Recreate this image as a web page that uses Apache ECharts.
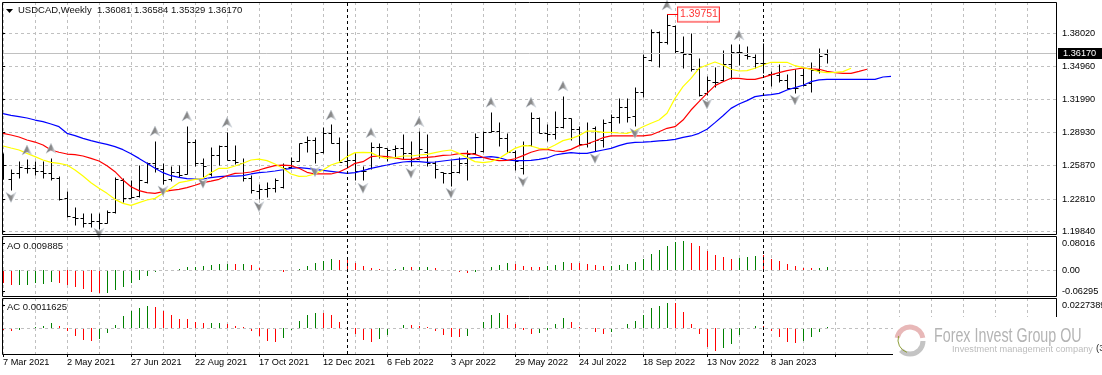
<!DOCTYPE html>
<html lang="en" style="height: 100%">
<head>
<meta charset="utf-8">
<title>USDCAD Weekly</title>
</head>
<body style="height: 100%; margin: 0; background: #fff">
<div id="container" style="width: 1102px; height: 375px"></div>

<script type="text/javascript" src="https://cdn.jsdelivr.net/npm/echarts@6/dist/echarts.min.js"></script>

<script type="text/javascript">
var dom = document.getElementById('container');
var myChart = echarts.init(dom);

// Weekly bars, one per week from 7 Mar 2021
var openPrices = [
  1.2462,1.2462,1.2517,1.2563,1.2563,1.2535,1.2517,1.2471,1.2287,1.2119,
  1.2104,1.2064,1.2076,1.2064,1.2162,1.2456,1.2287,1.2309,1.2440,1.2609,
  1.2554,1.2462,1.2532,1.2511,1.2808,1.2609,1.2511,1.2688,1.2771,1.2639,
  1.2609,1.2471,1.2358,1.2370,1.2379,1.2394,1.2578,1.2633,1.2801,1.2823,
  1.2716,1.2890,1.2798,1.2633,1.2639,1.2538,1.2563,1.2762,1.2746,1.2740,
  1.2746,1.2707,1.2648,1.2716,1.2609,1.2526,1.2517,1.2532,1.2615,1.2700,
  1.2725,1.2899,1.2908,1.2844,1.2716,1.2563,1.2777,1.3028,1.2884,1.2875,
  1.2939,1.3028,1.2921,1.2786,1.2930,1.2823,1.2991,1.3031,1.3123,1.3043,
  1.3263,1.3557,1.3811,1.3719,1.3872,1.3634,1.3612,1.3475,1.3251,1.3358,
  1.3374,1.3520,1.3634,1.3603,1.3588,1.3527,1.3429,1.3420,1.3374,1.3297,
  1.3420,1.3343,1.3465,1.36081
];
var highPrices = [
  1.2700,1.2554,1.2630,1.2645,1.2633,1.2630,1.2654,1.2495,1.2355,1.2205,
  1.2150,1.2150,1.2150,1.2180,1.2480,1.2471,1.2456,1.2593,1.2624,1.2814,
  1.2609,1.2587,1.2593,1.2951,1.2829,1.2654,1.2762,1.2780,1.2896,1.2777,
  1.2654,1.2502,1.2416,1.2440,1.2477,1.2609,1.2664,1.2798,1.2860,1.2847,
  1.2939,1.2967,1.2847,1.2823,1.2700,1.2587,1.2801,1.2792,1.2752,1.2777,
  1.2875,1.2814,1.2905,1.2878,1.2627,1.2526,1.2639,1.2670,1.2731,1.2884,
  1.2908,1.3083,1.2985,1.2890,1.2731,1.2814,1.3080,1.3031,1.2970,1.3092,
  1.3227,1.3028,1.2951,1.2988,1.2951,1.3016,1.3061,1.3208,1.3208,1.3306,
  1.3612,1.3839,1.3820,1.39751,1.3878,1.3778,1.3802,1.3573,1.3410,1.3496,
  1.3649,1.3701,1.3701,1.3689,1.3612,1.3710,1.3456,1.3517,1.3429,1.3475,
  1.3481,1.3539,1.3664,1.36584
];
var lowPrices = [
  1.2462,1.2364,1.2471,1.2517,1.2502,1.2477,1.2456,1.2272,1.2119,1.2043,
  1.2021,1.2021,1.2006,1.2058,1.2150,1.2251,1.2287,1.2303,1.2425,1.2526,
  1.2419,1.2450,1.2486,1.2508,1.2587,1.2486,1.2492,1.2593,1.2639,1.2599,
  1.2450,1.2339,1.2281,1.2303,1.2349,1.2385,1.2563,1.2633,1.2716,1.2609,
  1.2707,1.2792,1.2624,1.2578,1.2456,1.2456,1.2557,1.2654,1.2630,1.2654,
  1.2645,1.2587,1.2670,1.2587,1.2471,1.2431,1.2404,1.2523,1.2456,1.2694,
  1.2710,1.2893,1.2771,1.2710,1.2547,1.2511,1.2771,1.2884,1.2817,1.2832,
  1.2936,1.2823,1.2777,1.2762,1.2722,1.2762,1.2890,1.2982,1.2991,1.2951,
  1.3221,1.3551,1.3496,1.3701,1.3625,1.3487,1.3459,1.3227,1.3236,1.3306,
  1.3364,1.3383,1.3511,1.3563,1.3481,1.3435,1.3319,1.3352,1.3291,1.3257,
  1.3322,1.3267,1.3435,1.35329
];
var closePrices = [
  1.2593,1.2517,1.2572,1.2563,1.2541,1.2517,1.2477,1.2278,1.2125,1.2104,
  1.2064,1.2076,1.2064,1.2165,1.2465,1.2287,1.2303,1.2456,1.2609,1.2563,
  1.2456,1.2532,1.2502,1.2808,1.2609,1.2587,1.2685,1.2771,1.2639,1.2624,
  1.2471,1.2364,1.2370,1.2379,1.2456,1.2563,1.2630,1.2792,1.2823,1.2700,
  1.2890,1.2798,1.2624,1.2639,1.2538,1.2538,1.2762,1.2762,1.2731,1.2752,
  1.2700,1.2645,1.2740,1.2609,1.2557,1.2517,1.2532,1.2609,1.2694,1.2853,
  1.2899,1.2905,1.2844,1.2716,1.2633,1.2777,1.3028,1.2890,1.2875,1.2939,
  1.3028,1.2921,1.2786,1.2798,1.2823,1.2982,1.3037,1.3123,1.3037,1.3263,
  1.3588,1.3817,1.3726,1.3878,1.3643,1.3612,1.3472,1.3236,1.3374,1.3358,
  1.3520,1.3634,1.3634,1.3594,1.3527,1.3527,1.3429,1.3374,1.3297,1.3297,
  1.3328,1.3465,1.3594,1.36170
];

// Alligator lines, they run past the last bar because of their shift
var jawLine = [
  1.3065,1.3049,1.3037,1.3025,1.3006,1.2991,1.2970,1.2945,1.2884,1.2863,
  1.2838,1.2817,1.2798,1.2783,1.2762,1.2734,1.2697,1.2654,1.2609,1.2563,
  1.2523,1.2495,1.2480,1.2468,1.2465,1.2465,1.2477,1.2486,1.2492,1.2492,
  1.2495,1.2511,1.2523,1.2529,1.2538,1.2550,1.2563,1.2569,1.2563,1.2554,
  1.2544,1.2535,1.2526,1.2517,1.2523,1.2541,1.2563,1.2578,1.2593,1.2609,
  1.2621,1.2627,1.2624,1.2618,1.2621,1.2630,1.2639,1.2648,1.2654,1.2661,
  1.2664,1.2670,1.2661,1.2639,1.2633,1.2633,1.2636,1.2645,1.2658,1.2685,
  1.2697,1.2707,1.2700,1.2700,1.2716,1.2731,1.2746,1.2771,1.2792,1.2801,
  1.2804,1.2808,1.2814,1.2820,1.2829,1.2847,1.2860,1.2884,1.2921,1.2982,
  1.3046,1.3113,1.3153,1.3184,1.3221,1.3233,1.3239,1.3251,1.3282,1.3303,
  1.3325,1.3358,1.3374,1.3380,1.3380,1.3380,1.3380,1.3380,1.3380,1.3380,
  1.3401,1.3407
];
var teethLine = [
  1.2884,1.2869,1.2850,1.2823,1.2804,1.2777,1.2731,1.2710,1.2694,1.2688,
  1.2676,1.2654,1.2630,1.2587,1.2532,1.2456,1.2394,1.2358,1.2339,1.2333,
  1.2349,1.2361,1.2370,1.2385,1.2407,1.2431,1.2446,1.2462,1.2495,1.2517,
  1.2520,1.2529,1.2547,1.2569,1.2587,1.2593,1.2587,1.2563,1.2526,1.2511,
  1.2511,1.2511,1.2529,1.2563,1.2609,1.2624,1.2670,1.2676,1.2670,1.2658,
  1.2645,1.2645,1.2658,1.2664,1.2670,1.2682,1.2685,1.2697,1.2700,1.2691,
  1.2664,1.2645,1.2633,1.2636,1.2651,1.2679,1.2710,1.2731,1.2737,1.2722,
  1.2716,1.2737,1.2771,1.2786,1.2814,1.2844,1.2860,1.2860,1.2860,1.2860,
  1.2860,1.2869,1.2899,1.2930,1.2945,1.3006,1.3098,1.3175,1.3251,1.3322,
  1.3358,1.3389,1.3389,1.3380,1.3380,1.3398,1.3420,1.3441,1.3459,1.3472,
  1.3484,1.3475,1.3472,1.3453,1.3441,1.3435,1.3435,1.3453,1.3472
];
var lipsLine = [
  1.2768,1.2749,1.2731,1.2700,1.2670,1.2639,1.2618,1.2609,1.2593,1.2547,
  1.2492,1.2431,1.2379,1.2333,1.2278,1.2241,1.2223,1.2248,1.2272,1.2287,
  1.2333,1.2379,1.2431,1.2446,1.2462,1.2471,1.2523,1.2563,1.2563,1.2584,
  1.2609,1.2639,1.2648,1.2633,1.2602,1.2563,1.2511,1.2489,1.2492,1.2511,
  1.2547,1.2593,1.2618,1.2670,1.2707,1.2710,1.2707,1.2670,1.2654,1.2661,
  1.2676,1.2676,1.2685,1.2691,1.2707,1.2722,1.2731,1.2700,1.2661,1.2624,
  1.2615,1.2624,1.2654,1.2700,1.2746,1.2771,1.2768,1.2746,1.2740,1.2777,
  1.2817,1.2835,1.2863,1.2905,1.2905,1.2893,1.2893,1.2887,1.2884,1.2908,
  1.2945,1.2976,1.3006,1.3068,1.3205,1.3312,1.3389,1.3481,1.3511,1.3539,
  1.3511,1.3472,1.3456,1.3459,1.3481,1.3511,1.3536,1.3536,1.3536,1.3505,
  1.3487,1.3472,1.3450,1.3441,1.3444,1.3450,1.3481
];

// Fractal arrows as [bar, price]
var fractalsUp = [
  [3,1.2731],[6,1.2746],[19,1.2905],[23,1.3043],[28,1.2985],[41,1.3052],[46,1.2890],
  [52,1.2991],[61,1.3169],[66,1.3169],[70,1.3319],[83,1.4062],[92,1.3787]
];
var fractalsDown = [
  [1,1.2296],[12,1.1966],[20,1.2355],[25,1.2425],[32,1.2211],[39,1.2532],[45,1.2379],
  [51,1.2517],[56,1.2333],[65,1.2440],[74,1.2654],[79,1.2884],[88,1.3153],[99,1.3190]
];

// Oscillators, r = falling bar, g = rising bar
var aoValues = [
  -.0386,-.0436,-.0436,-.0436,-.0386,-.0406,-.0337,-.0386,-.0436,-.0505,
  -.0564,-.0634,-.0663,-.0673,-.0584,-.0485,-.0366,-.0287,-.0168,-.0040,
  .0010,.0020,.0040,.0089,.0109,.0129,.0158,.0188,.0188,.0188,
  .0188,.0158,.0079,.0020,.0020,-.0040,.0010,.0040,.0129,.0228,
  .0287,.0337,.0307,.0297,.0228,.0129,.0079,.0040,.0010,.0040,
  .0099,.0099,.0109,.0099,.0069,.0020,.0010,-.0040,-.0079,-.0040,
  .0010,.0099,.0158,.0228,.0198,.0139,.0099,.0099,.0119,.0158,
  .0248,.0228,.0228,.0198,.0158,.0129,.0129,.0158,.0198,.0248,
  .0347,.0485,.0604,.0723,.0842,.0871,.0812,.0733,.0574,.0455,
  .0396,.0337,.0366,.0406,.0426,.0455,.0337,.0277,.0188,.0129,
  .0079,.0069,.0069,.009885
];
var aoTrend = 'rr' + 'ggggg' + 'rrrrrr' + 'gggggggggggggggg' + 'r' + 'g' + 'rrrrr' + 'gggggg' +
  'rrrrrr' + 'ggg' + 'r' + 'gg' + 'rrrrr' + 'ggggg' + 'rrrr' + 'ggg' + 'rrrrr' + 'gggggggggg' +
  'rrrrrr' + 'ggg' + 'rrrrrrr' + 'gg';
var acValues = [
  -.0016,-.0026,-.0013,-.0003,.0013,.0023,.0052,.0023,-.0026,-.0075,
  -.0114,-.0124,-.0107,-.0046,.0033,.0120,.0169,.0202,.0218,.0211,
  .0169,.0130,.0091,.0091,.0065,.0052,.0052,.0052,.0042,.0023,
  .0013,-.0026,-.0075,-.0124,-.0133,-.0094,-.0016,.0072,.0130,.0146,
  .0150,.0130,.0062,0,-.0055,-.0114,-.0133,-.0104,-.0065,.0003,
  .0033,.0033,.0023,.0013,-.0026,-.0065,-.0085,-.0085,-.0075,0,
  .0062,.0130,.0150,.0130,.0042,-.0013,-.0055,-.0046,-.0016,.0042,
  .0101,.0062,.0013,-.0007,-.0036,-.0055,-.0036,.0003,.0042,.0072,
  .0130,.0198,.0218,.0247,.0250,.0159,.0042,-.0055,-.0182,-.0221,
  -.0192,-.0153,-.0065,.0007,.0023,.0020,-.0026,-.0085,-.0133,-.0143,
  -.0124,-.0085,-.0036,.0011625
];
var acTrend = 'rr' + 'ggggg' + 'rrrrr' + 'ggggggg' + 'rrrrrrr' + 'gg' + 'rrrrrrr' + 'ggggg' +
  'rrrrrrr' + 'gggg' + 'rrrrrrr' + 'ggggg' + 'rrrr' + 'gggg' + 'rrrrr' + 'gggggggg' +
  'rrrrrr' + 'ggggg' + 'rrrrr' + 'gggg';

// Axis labels
var dateLabels = ['7 Mar 2021', '2 May 2021', '27 Jun 2021', '22 Aug 2021', '17 Oct 2021', '12 Dec 2021',
  '6 Feb 2022', '3 Apr 2022', '29 May 2022', '24 Jul 2022', '18 Sep 2022', '13 Nov 2022', '8 Jan 2023'];
var priceTicks = [1.38020, 1.34960, 1.31990, 1.28930, 1.25870, 1.22810, 1.19840];
var aoTicks = [0.08016, 0, -0.06295];
var acTicks = [0.0227389];
var yearBreaks = [43, 95];
var lastPrice = 1.36170;
var peakBar = 83;
var peakPrice = 1.39751;

var FONT = 'Liberation Sans';
var GRID_COLOR = '#c0c0c0';
var LAST_X = 131.625;

// Bar with open tick on the left and close tick on the right
function renderOhlc(params, api) {
  var i = api.value(0);
  var x = Math.round(api.coord([i, 0])[0]) + 0.5;
  var y = function (v) { return Math.round(api.coord([i, v])[1]) + 0.5; };
  var style = { stroke: '#000', lineWidth: 1, fill: null };
  return {
    type: 'group',
    children: [
      { type: 'line', shape: { x1: x, y1: y(api.value(2)), x2: x, y2: y(api.value(3)) }, style: style },
      { type: 'line', shape: { x1: x - 3, y1: y(api.value(1)), x2: x, y2: y(api.value(1)) }, style: style },
      { type: 'line', shape: { x1: x, y1: y(api.value(4)), x2: x + 3, y2: y(api.value(4)) }, style: style }
    ]
  };
}

// Thin oscillator stick from zero to the value
function stickRenderer(trend) {
  return function (params, api) {
    var i = api.value(0);
    var x = Math.round(api.coord([i, 0])[0]) + 0.5;
    var y0 = Math.round(api.coord([i, 0])[1]);
    var y1 = Math.round(api.coord([i, api.value(1)])[1]);
    return {
      type: 'line',
      shape: { x1: x, y1: y0, x2: x, y2: y1 },
      style: { stroke: trend.charAt(params.dataIndex) === 'r' ? '#ff0000' : '#008000', lineWidth: 1, fill: null }
    };
  };
}

function breakLines() {
  return yearBreaks.map(function (b) {
    return { xAxis: b, lineStyle: { color: '#000', type: [3, 3], width: 1 } };
  });
}

function xAxisFor(gridIndex) {
  return {
    type: 'value', gridIndex: gridIndex, min: 0, max: LAST_X, interval: 4,
    axisLine: { show: false }, axisTick: { show: false }, axisLabel: { show: false },
    splitLine: { show: true, lineStyle: { color: GRID_COLOR, type: [3, 3], width: 1 } }
  };
}

function yAxisFor(gridIndex, min, max, ticks, decimals, showSplit) {
  return {
    type: 'value', gridIndex: gridIndex, position: 'right', min: min, max: max, scale: true,
    axisLine: { show: false },
    axisTick: { show: true, customValues: ticks, length: 2, lineStyle: { color: '#000' } },
    axisLabel: {
      show: true, customValues: ticks, margin: 6, color: '#000', fontFamily: FONT, fontSize: 9.2,
      formatter: function (v) { return v === 0 ? '0.00' : v.toFixed(decimals); }
    },
    splitLine: { show: showSplit, lineStyle: { color: GRID_COLOR, type: [3, 3], width: 1 } }
  };
}

var ohlcData = openPrices.map(function (o, i) {
  return [i, o, highPrices[i], lowPrices[i], closePrices[i]];
});
var aoData = aoValues.map(function (v, i) { return [i, v]; });
var acData = acValues.map(function (v, i) { return [i, v]; });

function lineSeries(name, values, color, extra) {
  var s = {
    name: name, type: 'line', xAxisIndex: 0, yAxisIndex: 0, showSymbol: false, symbol: 'none', z: 4,
    lineStyle: { color: color, width: 1.2 }, itemStyle: { color: color },
    data: values.map(function (v, i) { return [i, v]; })
  };
  return Object.assign(s, extra || {});
}

var ARROW_UP = 'path://M5,0 L10,10 L5,7 L0,10 Z';
var ARROW_DOWN = 'path://M5,10 L10,0 L5,3 L0,0 Z';
var ARROW_STYLE = {
  color: { type: 'linear', x: 0, y: 0, x2: 1, y2: 0, colorStops: [
    { offset: 0, color: '#7a7a7a' }, { offset: 0.55, color: '#8c8c8c' }, { offset: 1, color: '#f0f2f5' }
  ] },
  borderColor: '#c4ccd6', borderWidth: 0.5, opacity: 1
};

var option = {
  animation: false,
  backgroundColor: '#fff',
  textStyle: { fontFamily: FONT },
  title: [
    { text: 'USDCAD,Weekly  1.36081 1.36584 1.35329 1.36170', left: 18, top: 5, padding: 0,
      textStyle: { fontFamily: FONT, fontSize: 9.5, fontWeight: 'normal', color: '#111' } },
    { text: 'AO 0.009885', left: 7, top: 241, padding: 0,
      textStyle: { fontFamily: FONT, fontSize: 9.5, fontWeight: 'normal', color: '#111' } },
    { text: 'AC 0.0011625', left: 7, top: 302, padding: 0,
      textStyle: { fontFamily: FONT, fontSize: 9.5, fontWeight: 'normal', color: '#111' } }
  ],
  grid: [
    { left: 3, top: 2, width: 1053, height: 232, outerBoundsMode: 'none' },
    { left: 3, top: 237, width: 1053, height: 59, outerBoundsMode: 'none' },
    { left: 3, top: 298, width: 1053, height: 56, outerBoundsMode: 'none' }
  ],
  xAxis: [
    xAxisFor(0),
    xAxisFor(1),
    xAxisFor(2),
    {
      type: 'value', gridIndex: 2, position: 'bottom', min: 0, max: LAST_X, interval: 8,
      axisLine: { show: false },
      axisTick: { show: true, length: 3, lineStyle: { color: '#000' } },
      axisLabel: {
        show: true, color: '#000', fontFamily: FONT, fontSize: 9.2, align: 'left', margin: 4,
        showMaxLabel: false, showMinLabel: true,
        formatter: function (v) { return dateLabels[v / 8] || ''; }
      },
      splitLine: { show: false }
    }
  ],
  yAxis: [
    yAxisFor(0, 1.19599, 1.40896, priceTicks, 5, true),
    yAxisFor(1, -0.0763, 0.0989, aoTicks, 5, false),
    yAxisFor(2, -0.02506, 0.02954, acTicks, 7, false)
  ],
  series: [
    {
      name: 'USDCAD', type: 'custom', xAxisIndex: 0, yAxisIndex: 0, z: 3,
      encode: { x: 0, y: [1, 2, 3, 4] },
      renderItem: renderOhlc, data: ohlcData, clip: true
    },
    lineSeries('Jaw', jawLine, '#0000ff', {
      markLine: {
        silent: true, symbol: 'none', animation: false, precision: 5,
        data: [{
          yAxis: lastPrice,
          lineStyle: { color: '#c0c0c0', type: 'solid', width: 1 },
          label: {
            show: true, position: 'end', distance: 2, formatter: lastPrice.toFixed(5),
            color: '#fff', backgroundColor: '#000', padding: [1, 6, 1, 5],
            fontFamily: FONT, fontSize: 9.2
          }
        }].concat(breakLines().map(function (d) { d.label = { show: false }; return d; }))
      }
    }),
    lineSeries('Teeth', teethLine, '#ff0000'),
    lineSeries('Lips', lipsLine, '#ffff00'),
    {
      name: 'Fractal up', type: 'scatter', xAxisIndex: 0, yAxisIndex: 0, symbol: ARROW_UP, symbolSize: 10, z: 5,
      itemStyle: ARROW_STYLE, data: fractalsUp, clip: true
    },
    {
      name: 'Fractal down', type: 'scatter', xAxisIndex: 0, yAxisIndex: 0, symbol: ARROW_DOWN, symbolSize: 10, z: 5,
      itemStyle: ARROW_STYLE, data: fractalsDown, clip: true
    },
    // peak price tag with its short connector
    lineSeries('Peak', [], '#ff0000', {
      data: [[peakBar, peakPrice], [peakBar + 1.4, peakPrice]], z: 6,
      lineStyle: { color: '#ff0000', width: 1 }
    }),
    {
      name: 'Peak label', type: 'scatter', xAxisIndex: 0, yAxisIndex: 0, symbolSize: 0, z: 7, clip: false,
      data: [[peakBar, peakPrice]],
      label: {
        show: true, position: 'right', distance: 11, formatter: peakPrice.toFixed(5),
        color: '#ff0000', backgroundColor: '#fff', borderColor: '#ff0000', borderWidth: 1,
        padding: [2, 1, 1, 2], fontFamily: FONT, fontSize: 10.5
      }
    },
    {
      name: 'AO', type: 'custom', xAxisIndex: 1, yAxisIndex: 1, encode: { x: 0, y: 1 }, z: 3,
      renderItem: stickRenderer(aoTrend), data: aoData,
      markLine: {
        silent: true, symbol: 'none', animation: false, label: { show: false },
        data: [{ yAxis: 0, lineStyle: { color: GRID_COLOR, type: [3, 3], width: 1 } }].concat(breakLines())
      }
    },
    {
      name: 'AC', type: 'custom', xAxisIndex: 2, yAxisIndex: 2, encode: { x: 0, y: 1 }, z: 3,
      renderItem: stickRenderer(acTrend), data: acData,
      markLine: {
        silent: true, symbol: 'none', animation: false, label: { show: false },
        data: [{ yAxis: 0, lineStyle: { color: GRID_COLOR, type: [3, 3], width: 1 } }].concat(breakLines())
      }
    }
  ],
  graphic: [
    // panel frames
    { type: 'rect', z: 50, silent: true, shape: { x: 2.5, y: 2.5, width: 1054, height: 232 }, style: { fill: null, stroke: '#000', lineWidth: 1 } },
    { type: 'rect', z: 50, silent: true, shape: { x: 2.5, y: 236.5, width: 1054, height: 60 }, style: { fill: null, stroke: '#000', lineWidth: 1 } },
    { type: 'rect', z: 50, silent: true, shape: { x: 2.5, y: 298.5, width: 1054, height: 56 }, style: { fill: null, stroke: '#000', lineWidth: 1 } },
    // dropdown marker next to the symbol name
    { type: 'polygon', z: 50, silent: true, shape: { points: [[6, 9], [13, 9], [9.5, 13]] }, style: { fill: '#000' } },
    // watermark patch over the lower right corner
    { type: 'rect', z: 60, silent: true, shape: { x: 893, y: 317, width: 209, height: 58 }, style: { fill: '#fff' } },
    { type: 'arc', z: 61, silent: true, shape: { cx: 910, cy: 340, r: 13, startAngle: Math.PI * 1.05, endAngle: Math.PI * 1.95 }, style: { fill: null, stroke: '#e8b8b8', lineWidth: 5 } },
    { type: 'arc', z: 61, silent: true, shape: { cx: 910, cy: 341, r: 13, startAngle: 0, endAngle: Math.PI * 0.75 }, style: { fill: null, stroke: '#c4c4c4', lineWidth: 5 } },
    { type: 'arc', z: 61, silent: true, shape: { cx: 911, cy: 340, r: 13, startAngle: Math.PI * 0.6, endAngle: Math.PI * 1.1 }, style: { fill: null, stroke: '#8f9f3a', lineWidth: 1 } },
    { type: 'text', z: 61, silent: true, x: 934, y: 326, scaleX: 0.68, style: { text: 'Forex Invest Group OU', fill: '#b4b4b4', font: '21px "Liberation Sans"' } },
    { type: 'text', z: 61, silent: true, x: 952, y: 345, style: { text: 'Investment management company', fill: '#bcbcbc', font: '9.2px "Liberation Sans"' } },
    { type: 'text', z: 61, silent: true, x: 1096, y: 343, style: { text: '(3', fill: '#222', font: '9.5px "Liberation Sans"' } }
  ]
};

myChart.setOption(option);
window.addEventListener('resize', myChart.resize);
</script>
</body>
</html>
